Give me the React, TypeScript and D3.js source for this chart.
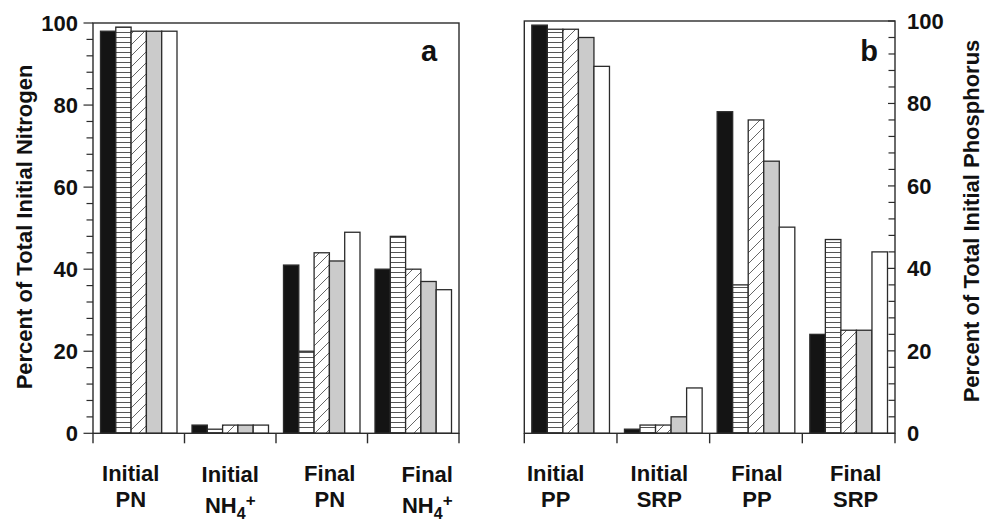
import { useEffect, useRef } from 'react';
import * as d3 from 'd3';

const W = 995;
const H = 524;
const FONT = '"Liberation Sans", Arial, Helvetica, sans-serif';

// group labels (two lines each)
const nitrogenTop = ['Initial', 'Initial', 'Final', 'Final'];
const nitrogenBottom = ['PN', 'NH4+', 'PN', 'NH4+'];
const phosphorusTop = ['Initial', 'Initial', 'Final', 'Final'];
const phosphorusBottom = ['PP', 'SRP', 'PP', 'SRP'];

// five treatments per group, % of total initial N / P
const nitrogenValues = [
  [98, 99, 98, 98, 98],
  [2, 1, 2, 2, 2],
  [41, 20, 44, 42, 49],
  [40, 48, 40, 37, 35],
];
const phosphorusValues = [
  [99, 98, 98, 96, 89],
  [1, 2, 2, 4, 11],
  [78, 36, 76, 66, 50],
  [24, 47, 25, 25, 44],
];

const series = ['s1', 's2', 's3', 's4', 's5'];
const majorTicks = [0, 20, 40, 60, 80, 100];
const minorTicks = d3.range(0, 101, 4);

const FILLS = ['#141414', 'url(#stripe)', 'url(#hatch)', '#cbcbcb', '#ffffff'];
const INK = '#2b2b2b';

type Panel = {
  x0: number; x1: number; y0: number; y1: number;
  values: number[][];
  top: string[]; bottom: string[];
  labelShift: number[];
  side: 'left' | 'right';
  title: string; titleX: number; titleY: number;
  letter: string; letterX: number;
};

function drawPanel(svg: d3.Selection<SVGSVGElement, unknown, null, undefined>, p: Panel) {
  const g = svg.append('g');
  const groups = d3.range(p.values.length).map(String);
  const x = d3.scaleBand<string>().domain(groups).range([p.x0, p.x1]);
  const inner = d3.scaleBand<string>().domain(series).range([7.5, x.bandwidth() - 7.5]);
  const y = d3.scaleLinear().domain([0, 100]).range([p.y1, p.y0]);

  // bars
  p.values.forEach((row, gi) => {
    g.append('g').selectAll('rect').data(row).join('rect')
      .attr('x', (_, i) => (x(String(gi)) ?? 0) + (inner(series[i]) ?? 0))
      .attr('y', d => y(d))
      .attr('width', inner.bandwidth())
      .attr('height', d => y(0) - y(d))
      .attr('fill', (_, i) => FILLS[i])
      .attr('stroke', INK)
      .attr('stroke-width', 1.3);
  });

  // frame
  g.append('rect')
    .attr('x', p.x0).attr('y', p.y0)
    .attr('width', p.x1 - p.x0).attr('height', p.y1 - p.y0)
    .attr('fill', 'none').attr('stroke', INK).attr('stroke-width', 1.4);

  // x ticks at group edges
  const edges = groups.map(k => x(k) ?? 0).concat([p.x1]);
  g.append('g').selectAll('line').data(edges).join('line')
    .attr('x1', d => d).attr('x2', d => d)
    .attr('y1', p.y1).attr('y2', p.y1 + 10)
    .attr('stroke', INK).attr('stroke-width', 1.4);

  // y ticks: outside on the left panel, inside on the right one
  const ax = p.side === 'left' ? p.x0 : p.x1;
  g.append('g').selectAll('line').data(minorTicks).join('line')
    .attr('x1', ax).attr('x2', d => ax - (majorTicks.includes(d) ? (p.side === 'left' ? 9.5 : 7) : 6.5))
    .attr('y1', d => y(d)).attr('y2', d => y(d))
    .attr('stroke', INK).attr('stroke-width', 1.2);

  g.append('g').selectAll('text').data(majorTicks).join('text')
    .attr('x', p.side === 'left' ? 78 : 907)
    .attr('y', d => y(d))
    .attr('dy', '0.36em')
    .attr('text-anchor', p.side === 'left' ? 'end' : 'start')
    .attr('font-size', 22).attr('font-weight', 700).attr('fill', '#111')
    .text(d => d);

  // group labels
  groups.forEach((k, gi) => {
    const cx = (x(k) ?? 0) + x.bandwidth() / 2 + p.labelShift[gi];
    const chem = /^(\D+)(\d)(\+)$/.exec(p.bottom[gi]);
    const drop = chem ? 1 : 0;
    g.append('text')
      .attr('x', cx).attr('y', 481 + drop)
      .attr('text-anchor', 'middle')
      .attr('font-size', 22).attr('font-weight', 700).attr('fill', '#111')
      .text(p.top[gi]);
    const t = g.append('text')
      .attr('x', cx).attr('y', 507 + (chem ? 6 : 0))
      .attr('text-anchor', 'middle')
      .attr('font-size', 22).attr('font-weight', 700).attr('fill', '#111');
    if (chem) {
      t.append('tspan').text(chem[1]);
      t.append('tspan').attr('dy', 6).attr('font-size', 16).text(chem[2]);
      t.append('tspan').attr('dy', -13).attr('font-size', 17).text(chem[3]);
    } else {
      t.text(p.bottom[gi]);
    }
  });

  // axis title
  g.append('text')
    .attr('transform', `translate(${p.titleX},${p.titleY}) rotate(-90)`)
    .attr('text-anchor', 'middle')
    .attr('font-size', 22).attr('font-weight', 700).attr('fill', '#111')
    .text(p.title);

  // panel letter
  g.append('text')
    .attr('x', p.letterX).attr('y', 61)
    .attr('text-anchor', 'middle')
    .attr('font-size', 29).attr('font-weight', 700).attr('fill', '#111')
    .text(p.letter);
}

export default function App() {
  const svgRef = useRef<SVGSVGElement>(null);

  useEffect(() => {
    if (!svgRef.current) return;
    const svg = d3.select(svgRef.current);
    svg.selectAll('*').remove();

    const defs = svg.append('defs');
    const stripe = defs.append('pattern')
      .attr('id', 'stripe').attr('patternUnits', 'userSpaceOnUse')
      .attr('width', 6).attr('height', 5);
    stripe.append('rect').attr('width', 6).attr('height', 5).attr('fill', '#fff');
    stripe.append('line').attr('x1', 0).attr('x2', 6).attr('y1', 2.5).attr('y2', 2.5)
      .attr('stroke', '#555').attr('stroke-width', 1);

    const hs = 11;
    const hatch = defs.append('pattern')
      .attr('id', 'hatch').attr('patternUnits', 'userSpaceOnUse')
      .attr('width', hs).attr('height', hs);
    hatch.append('rect').attr('width', hs).attr('height', hs).attr('fill', '#fff');
    hatch.append('path')
      .attr('d', `M0,${hs} L${hs},0 M-2,2 L2,-2 M${hs - 2},${hs + 2} L${hs + 2},${hs - 2}`)
      .attr('stroke', '#555').attr('stroke-width', 0.9);

    svg.append('rect').attr('width', W).attr('height', H).attr('fill', '#fff');

    drawPanel(svg, {
      x0: 93, x1: 459, y0: 23, y1: 433.3,
      values: nitrogenValues, top: nitrogenTop, bottom: nitrogenBottom,
      labelShift: [-8, 0, 8, 14],
      side: 'left',
      title: 'Percent of Total Initial Nitrogen', titleX: 32, titleY: 227,
      letter: 'a', letterX: 429,
    });
    drawPanel(svg, {
      x0: 524.3, x1: 895, y0: 21, y1: 433.3,
      values: phosphorusValues, top: phosphorusTop, bottom: phosphorusBottom,
      labelShift: [-15, -4, 1, 7],
      side: 'right',
      title: 'Percent of Total Initial Phosphorus', titleX: 979, titleY: 221,
      letter: 'b', letterX: 869,
    });
  }, []);

  return (
    <svg
      ref={svgRef}
      width={W}
      height={H}
      style={{ position: 'absolute', left: 0, top: 0, fontFamily: FONT }}
    />
  );
}
